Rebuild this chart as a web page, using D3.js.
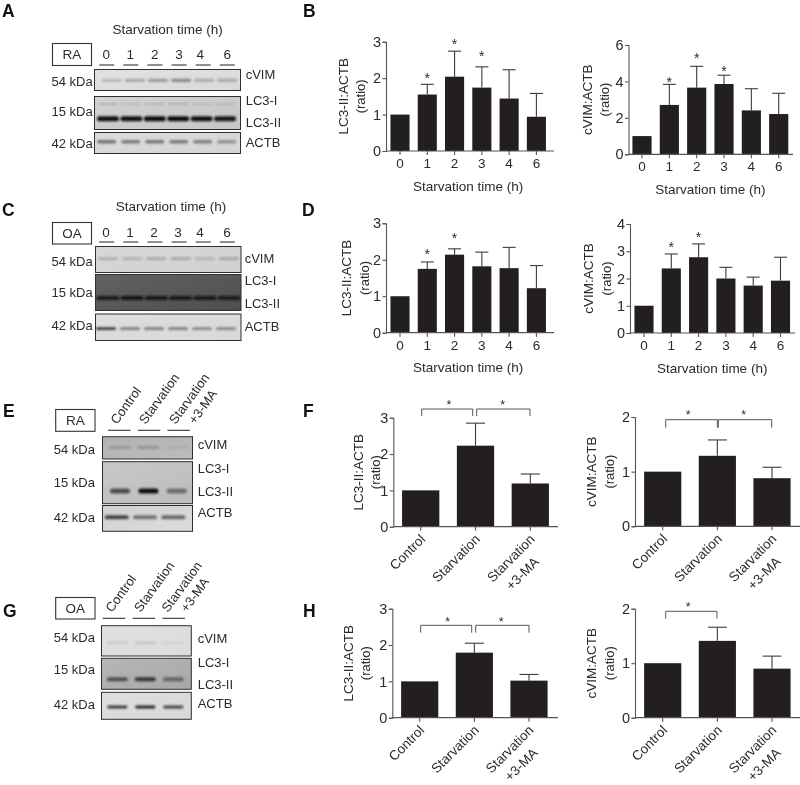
<!DOCTYPE html>
<html><head><meta charset="utf-8">
<script src="https://cdnjs.cloudflare.com/ajax/libs/d3/7.8.5/d3.min.js"></script>
<style>
html,body{margin:0;padding:0;background:#fff}
svg{display:block;filter:blur(0.3px)}
text{font-family:"Liberation Sans",Arial,sans-serif;fill:#2b2b2b}
</style></head><body>
<svg id="fig" width="800" height="785"></svg>
<script>
// ---------- values ----------
const timeLabels = ["0","1","2","3","4","6"];
const treatLabels = [["Control"],["Starvation"],["Starvation","+3-MA"]];

const lc3RaTime = [1.0,1.55,2.04,1.74,1.44,0.94];
const lc3RaTimeErr = [null,1.83,2.74,2.31,2.23,1.58];
const lc3RaTimeStars = [null,2.06,3.01,2.66,null,null];
const vimRaTime = [1.0,2.71,3.66,3.86,2.41,2.21];
const vimRaTimeErr = [null,3.84,4.83,4.34,3.6,3.35];
const vimRaTimeStars = [null,4.08,5.41,4.72,null,null];

const lc3OaTime = [1.0,1.75,2.14,1.82,1.77,1.22];
const lc3OaTimeErr = [null,1.94,2.3,2.21,2.34,1.84];
const lc3OaTimeStars = [null,2.22,2.66,null,null,null];
const vimOaTime = [1.0,2.37,2.78,2.0,1.74,1.92];
const vimOaTimeErr = [null,2.9,3.27,2.41,2.05,2.78];
const vimOaTimeStars = [null,3.23,3.6,null,null,null];

const lc3RaTreat = [1.0,2.23,1.19];
const lc3RaTreatErr = [null,2.85,1.45];
const vimRaTreat = [1.0,1.29,0.88];
const vimRaTreatErr = [null,1.58,1.08];
const lc3OaTreat = [1.0,1.79,1.02];
const lc3OaTreatErr = [null,2.05,1.19];
const vimOaTreat = [1.0,1.41,0.9];
const vimOaTreatErr = [null,1.66,1.13];

// blot band darkness per lane (0-1)
const blotAVim = [.28,.38,.48,.62,.36,.36];
const blotALc3i = [.18,.14,.16,.18,.14,.14];
const blotALc3ii = [.98,.98,1,1,.98,.95];
const blotAActb = [.6,.55,.58,.55,.52,.42];
const blotCVim = [.28,.25,.3,.3,.22,.32];
const blotCLc3ii = [.85,.95,.9,.85,.85,.8];
const blotCActb = [.85,.5,.5,.5,.45,.45];
const blotEVim = [.2,.25,.08];
const blotELc3ii = [.65,1,.45];
const blotEActb = [.8,.55,.6];
const blotGVim = [.12,.14,.07];
const blotGLc3ii = [.6,.75,.45];
const blotGActb = [.8,.9,.75];

// ---------- layout ----------
const svg = d3.select("#fig");
const defs = svg.append("defs");
defs.append("filter").attr("id","soft").attr("x","-30%").attr("y","-100%").attr("width","160%").attr("height","300%")
  .append("feGaussianBlur").attr("stdDeviation",0.9);

const barColor = "#231f20", axisColor = "#555", errColor = "#3c3c3c";

function label(t,x,y,opt={}){
  return svg.append("text").attr("x",x).attr("y",y).attr("text-anchor",opt.anchor||"start")
    .attr("dy",".35em").attr("font-size",opt.size||13).text(t);
}
function panelLetter(t,x,y){
  svg.append("text").attr("x",x).attr("y",y).attr("font-size",17.5).attr("font-weight","bold").style("fill","#111").text(t);
}

function barChart(o){
  const y = d3.scaleLinear().domain([0,o.max]).range([o.y0,o.yTop]);
  const step = (o.last-o.first)/(o.labels.length-1);
  const x = d3.scaleBand().domain(o.labels.map((d,i)=>i))
    .range([o.first-step/2,o.last+step/2]).paddingInner(o.pad).paddingOuter(o.pad/2);
  const g = svg.append("g");
  const cx = i=>x(i)+x.bandwidth()/2;

  g.selectAll("rect.bar").data(o.values).join("rect").attr("class","bar")
    .attr("x",(d,i)=>x(i)).attr("width",x.bandwidth())
    .attr("y",d=>y(d)).attr("height",d=>y(0)-y(d)).attr("fill",barColor);

  const eg = g.selectAll("g.err").data(o.err.map((e,i)=>({e,i,v:o.values[i]})).filter(d=>d.e!=null)).join("g").attr("class","err")
    .attr("stroke",errColor).attr("stroke-width",1.1);
  eg.append("line").attr("x1",d=>cx(d.i)).attr("x2",d=>cx(d.i)).attr("y1",d=>y(d.v)).attr("y2",d=>y(d.e));
  eg.append("line").attr("x1",d=>cx(d.i)-o.cap).attr("x2",d=>cx(d.i)+o.cap).attr("y1",d=>y(d.e)).attr("y2",d=>y(d.e));

  if(o.stars){
    g.selectAll("text.star").data(o.stars.map((s,i)=>({s,i})).filter(d=>d.s!=null)).join("text").attr("class","star")
      .attr("x",d=>cx(d.i)).attr("y",d=>y(d.s)).attr("dy",".52em").attr("text-anchor","middle").attr("font-size",14).text("*");
  }

  const yAxis = g.append("g").attr("transform",`translate(${o.axisX},0)`)
    .call(d3.axisLeft(y).tickValues(d3.range(0,o.max+0.001,o.tickStep)).tickFormat(d3.format("d")).tickSize(3.5).tickPadding(1.5));
  yAxis.selectAll("path,line").attr("stroke",axisColor).attr("stroke-width",1.1);
  yAxis.selectAll("text").attr("font-size",14.5).style("font-family",'"Liberation Sans",Arial,sans-serif').style("fill","#2b2b2b");

  const xAxis = g.append("g").attr("transform",`translate(0,${o.y0})`)
    .call(d3.axisBottom(x).tickFormat(o.rotate?()=>"":(i=>o.labels[i])).tickSize(4).tickPadding(3.5));
  xAxis.select(".domain").remove();
  xAxis.selectAll("line").attr("stroke",axisColor).attr("stroke-width",1.1);
  xAxis.selectAll("text").attr("font-size",13.5).style("font-family",'"Liberation Sans",Arial,sans-serif').style("fill","#2b2b2b");
  g.append("line").attr("x1",o.axisX).attr("x2",o.axisEnd).attr("y1",o.y0).attr("y2",o.y0).attr("stroke",axisColor).attr("stroke-width",1.2);

  if(o.rotate){
    o.labels.forEach((lines,i)=>{
      const t = g.append("g").attr("transform",`translate(${cx(i)+2},${o.y0+10}) rotate(-45)`);
      lines.forEach((ln,k)=>t.append("text").attr("text-anchor","end").attr("dy",".35em")
        .attr("x",k===0?0:-13).attr("y",k===0?0:19).attr("font-size",13.5).text(ln));
    });
  } else {
    g.append("text").attr("x",(o.first+o.last)/2).attr("y",o.y0+35).attr("dy",".35em").attr("text-anchor","middle").attr("font-size",13.5).text("Starvation time (h)");
  }

  const midY = (o.y0+o.yTop)/2+o.labelShift;
  const yl = g.append("g").attr("transform",`translate(${o.labelX},${midY}) rotate(-90)`);
  yl.append("text").attr("text-anchor","middle").attr("dy",".35em").attr("font-size",13.5).text(o.ylab);
  yl.append("text").attr("text-anchor","middle").attr("dy",".35em").attr("y",17.5).attr("font-size",13).text("(ratio)");

  (o.brackets||[]).forEach(b=>{
    g.append("path").attr("fill","none").attr("stroke",axisColor).attr("stroke-width",1)
      .attr("d",`M${b[0]},${o.brY1}V${o.brY0}H${b[1]}V${o.brY1}`);
    g.append("text").attr("x",b[2]).attr("y",o.brStar).attr("dy",".52em").attr("text-anchor","middle").attr("font-size",12.5).text("*");
  });
}

function blot(o){
  const g = svg.append("g");
  o.rows.forEach(r=>{
    const gid = "bg"+o.id+r.key;
    const lg = defs.append("linearGradient").attr("id",gid).attr("x1",0).attr("x2",1).attr("y1",0).attr("y2",1);
    lg.append("stop").attr("offset","0%").attr("stop-color",r.bg[0]);
    lg.append("stop").attr("offset","100%").attr("stop-color",r.bg[1]);
    g.append("rect").attr("x",o.x0).attr("y",r.y0).attr("width",o.x1-o.x0).attr("height",r.y1-r.y0)
      .attr("fill",`url(#${gid})`);
    const clip = defs.append("clipPath").attr("id","c"+gid);
    clip.append("rect").attr("x",o.x0).attr("y",r.y0).attr("width",o.x1-o.x0).attr("height",r.y1-r.y0);
    const inner = g.append("g").attr("clip-path",`url(#c${gid})`);
    r.bands.forEach(b=>{
      const lane = d3.scalePoint().domain(o.lanes.map((d,i)=>i)).range(b.range);
      inner.selectAll(null).data(b.v).join("rect")
        .attr("x",(d,i)=>lane(i)-b.w/2).attr("width",b.w)
        .attr("y",b.y-b.h/2).attr("height",b.h).attr("rx",b.h/2)
        .attr("fill",b.c).attr("opacity",d=>d).attr("filter","url(#soft)");
    });
    g.append("rect").attr("x",o.x0).attr("y",r.y0).attr("width",o.x1-o.x0).attr("height",r.y1-r.y0)
      .attr("fill","none").attr("stroke","#2e2e2e").attr("stroke-width",1);
  });
  svg.append("rect").attr("x",o.box[0]).attr("y",o.box[1]).attr("width",o.box[2]-o.box[0]).attr("height",o.box[3]-o.box[1])
    .attr("fill","#fff").attr("stroke","#333").attr("stroke-width",1.1);
  label(o.sample,(o.box[0]+o.box[2])/2,(o.box[1]+o.box[3])/2,{anchor:"middle",size:13.5});
  const ul = d3.scalePoint().domain(o.lanes.map((d,i)=>i)).range(o.ulRange);
  svg.selectAll(null).data(o.lanes).join("line").attr("class","ul")
    .attr("x1",(d,i)=>ul(i)-o.ulw/2).attr("x2",(d,i)=>ul(i)+o.ulw/2)
    .attr("y1",o.ulY).attr("y2",o.ulY).attr("stroke","#333").attr("stroke-width",1.1);
  o.kda.forEach(k=>label(k[0],o.kdaX,k[1],{anchor:"end"}));
  o.names.forEach(k=>label(k[0],o.nameX,k[1]));
  if(o.rotated){
    o.rotated.forEach(r=>{
      svg.append("text").attr("transform",`translate(${r[1]},${r[2]}) rotate(-54)`).attr("font-size",13).text(r[0]);
    });
  } else {
    o.lanes.forEach((t,i)=>label(t,o.laneLabelX[i],o.laneLabelY,{anchor:"middle",size:13.5}));
    label("Starvation time (h)",o.titleX,o.titleY,{anchor:"middle",size:13.5});
  }
}

// ---------- blots ----------
blot({id:"A",sample:"RA",x0:94.5,x1:240.5,box:[52.5,43.5,91.5,65.5],lanes:timeLabels,
  ulRange:[106.7,227.3],ulw:15,ulY:65,
  laneLabelX:[106.3,130.3,154.7,179,200.3,227.3],laneLabelY:54,titleX:167.7,titleY:29,
  kdaX:92.7,kda:[["54 kDa",81],["15 kDa",111],["42 kDa",143]],nameX:245.7,
  names:[["cVIM",74.7],["LC3-I",100],["LC3-II",122.7],["ACTB",142.3]],
  rows:[
   {key:"v",y0:69.5,y1:90.5,bg:["#e2e2e2","#d8d8d8"],bands:[{v:blotAVim,y:80.3,h:3.2,w:20,range:[111.7,227.3],c:"#555"}]},
   {key:"l",y0:96.5,y1:129.5,bg:["#d2d2d2","#c6c6c6"],bands:[{v:blotALc3i,y:104,h:2.2,w:20,range:[108,225],c:"#333"},{v:blotALc3ii,y:118.7,h:5,w:22,range:[108,225],c:"#0d0d0d"}]},
   {key:"a",y0:132.5,y1:153.5,bg:["#dcdcdc","#d4d4d4"],bands:[{v:blotAActb,y:141.7,h:3.4,w:19,range:[106.7,226.7],c:"#333"}]}
  ]});
blot({id:"C",sample:"OA",x0:95.5,x1:241,box:[52.5,222.5,91.5,244],lanes:timeLabels,
  ulRange:[106.7,227.3],ulw:15,ulY:242,
  laneLabelX:[106,130,154,178,200,227],laneLabelY:232,titleX:171,titleY:206.7,
  kdaX:92.7,kda:[["54 kDa",261.7],["15 kDa",292],["42 kDa",325.7]],nameX:244.7,
  names:[["cVIM",258.3],["LC3-I",280.7],["LC3-II",303.3],["ACTB",326]],
  rows:[
   {key:"v",y0:246.5,y1:272.5,bg:["#d8d8d8","#d0d0d0"],bands:[{v:blotCVim,y:258.7,h:3.2,w:20,range:[108,229],c:"#555"}]},
   {key:"l",y0:274.5,y1:310.5,bg:["#626262","#4e4e4e"],bands:[{v:blotCLc3ii,y:298,h:4,w:23,range:[108,229],c:"#0a0a0a"}]},
   {key:"a",y0:314,y1:340.5,bg:["#dedede","#d8d8d8"],bands:[{v:blotCActb,y:328.7,h:2.8,w:20,range:[106,226],c:"#222"}]}
  ]});
blot({id:"E",sample:"RA",x0:102.5,x1:192.5,box:[55.7,409.5,95,431.3],lanes:["a","b","c"],
  ulRange:[119.3,178.7],ulw:22.5,ulY:430.3,
  kdaX:95,kda:[["54 kDa",449.3],["15 kDa",482.3],["42 kDa",517.7]],nameX:197.7,
  names:[["cVIM",444],["LC3-I",468.3],["LC3-II",491],["ACTB",512.3]],
  rotated:[["Control",117,425],["Starvation",145.5,425],["Starvation",175.5,425],["+3-MA",195,425]],
  rows:[
   {key:"v",y0:436.7,y1:459,bg:["#b2b2b2","#bcbcbc"],bands:[{v:blotEVim,y:447.3,h:3.2,w:22,range:[120,176.7],c:"#333"}]},
   {key:"l",y0:461.7,y1:503.7,bg:["#c8c8c8","#bcbcbc"],bands:[{v:blotELc3ii,y:491,h:5,w:20,range:[120,176.7],c:"#111"}]},
   {key:"a",y0:505.5,y1:531.3,bg:["#d0d0d0","#dcdcdc"],bands:[{v:blotEActb,y:517.3,h:4,w:24,range:[116.7,173.3],c:"#222"}]}
  ]});
blot({id:"G",sample:"OA",x0:101.5,x1:191.3,box:[55.7,597.5,95,619],lanes:["a","b","c"],
  ulRange:[114,173.7],ulw:22.5,ulY:618.3,
  kdaX:95,kda:[["54 kDa",637],["15 kDa",669.7],["42 kDa",704.7]],nameX:197.7,
  names:[["cVIM",638.3],["LC3-I",662],["LC3-II",684.7],["ACTB",703.7]],
  rotated:[["Control",112,613],["Starvation",140.5,613],["Starvation",168,613],["+3-MA",187,613]],
  rows:[
   {key:"v",y0:625.7,y1:656,bg:["#e0e0e0","#dcdcdc"],bands:[{v:blotGVim,y:642.7,h:2.6,w:21,range:[117.3,173.3],c:"#333"}]},
   {key:"l",y0:658.3,y1:689.3,bg:["#b6b6b6","#a8a8a8"],bands:[{v:blotGLc3ii,y:679.3,h:4,w:21,range:[117.3,173.3],c:"#111"}]},
   {key:"a",y0:692.3,y1:719.3,bg:["#dedede","#d8d8d8"],bands:[{v:blotGActb,y:707,h:2.8,w:20,range:[117.3,173.3],c:"#111"}]}
  ]});

// ---------- bar charts ----------
const timeBase = {labels:timeLabels,pad:0.3,cap:6.5,labelShift:0};
barChart({...timeBase,values:lc3RaTime,err:lc3RaTimeErr,stars:lc3RaTimeStars,max:3,tickStep:1,axisX:386,axisEnd:554,first:400,last:536.4,y0:151,yTop:41.7,labelX:343,ylab:"LC3-II:ACTB"});
barChart({...timeBase,values:vimRaTime,err:vimRaTimeErr,stars:vimRaTimeStars,max:6,tickStep:2,axisX:628.5,axisEnd:793,first:642,last:778.7,y0:154.3,yTop:45,labelX:587,ylab:"cVIM:ACTB"});
barChart({...timeBase,values:lc3OaTime,err:lc3OaTimeErr,stars:lc3OaTimeStars,max:3,tickStep:1,axisX:386,axisEnd:554,first:400,last:536.4,y0:332.7,yTop:223.3,labelX:346.5,ylab:"LC3-II:ACTB"});
barChart({...timeBase,values:vimOaTime,err:vimOaTimeErr,stars:vimOaTimeStars,max:4,tickStep:1,axisX:630,axisEnd:795,first:644,last:780.5,y0:333,yTop:224,labelX:588.5,ylab:"cVIM:ACTB"});

const treatBase = {labels:treatLabels,pad:0.32,cap:9.5,rotate:true,stars:null,labelShift:0,max:3,tickStep:1};
barChart({...treatBase,values:lc3RaTreat,err:lc3RaTreatErr,axisX:393.3,axisEnd:558,first:420.7,last:530.3,y0:526.7,yTop:417.7,labelX:358,ylab:"LC3-II:ACTB",
  brY0:409,brY1:416,brStar:402,brackets:[[421.7,472.7,449],[476.7,530,502.7]]});
barChart({...treatBase,values:vimRaTreat,err:vimRaTreatErr,max:2,axisX:635,axisEnd:800,first:662.7,last:772,y0:526.3,yTop:417,labelX:591.7,ylab:"cVIM:ACTB",
  brY0:419.7,brY1:427.7,brStar:412.7,brackets:[[665.7,717.3,688.3],[718.3,771.7,743.7]]});
barChart({...treatBase,values:lc3OaTreat,err:lc3OaTreatErr,axisX:392.3,axisEnd:558,first:419.7,last:529,y0:717.7,yTop:608.7,labelX:348.3,ylab:"LC3-II:ACTB",
  brY0:625.3,brY1:632.7,brStar:619,brackets:[[420.7,471.7,447.7],[475.7,529,501.3]]});
barChart({...treatBase,values:vimOaTreat,err:vimOaTreatErr,max:2,axisX:635,axisEnd:800,first:662.7,last:772,y0:717.7,yTop:608.7,labelX:591.7,ylab:"cVIM:ACTB",
  brY0:611.3,brY1:618.7,brStar:604.3,brackets:[[665.7,717,688.3]]});

// ---------- panel letters ----------
[["A",2,17],["B",303,17],["C",2,216],["D",302,216],["E",3,417],["F",303,417],["G",3,617],["H",303,617]]
  .forEach(d=>panelLetter(d[0],d[1],d[2]));
</script>
</body></html>
